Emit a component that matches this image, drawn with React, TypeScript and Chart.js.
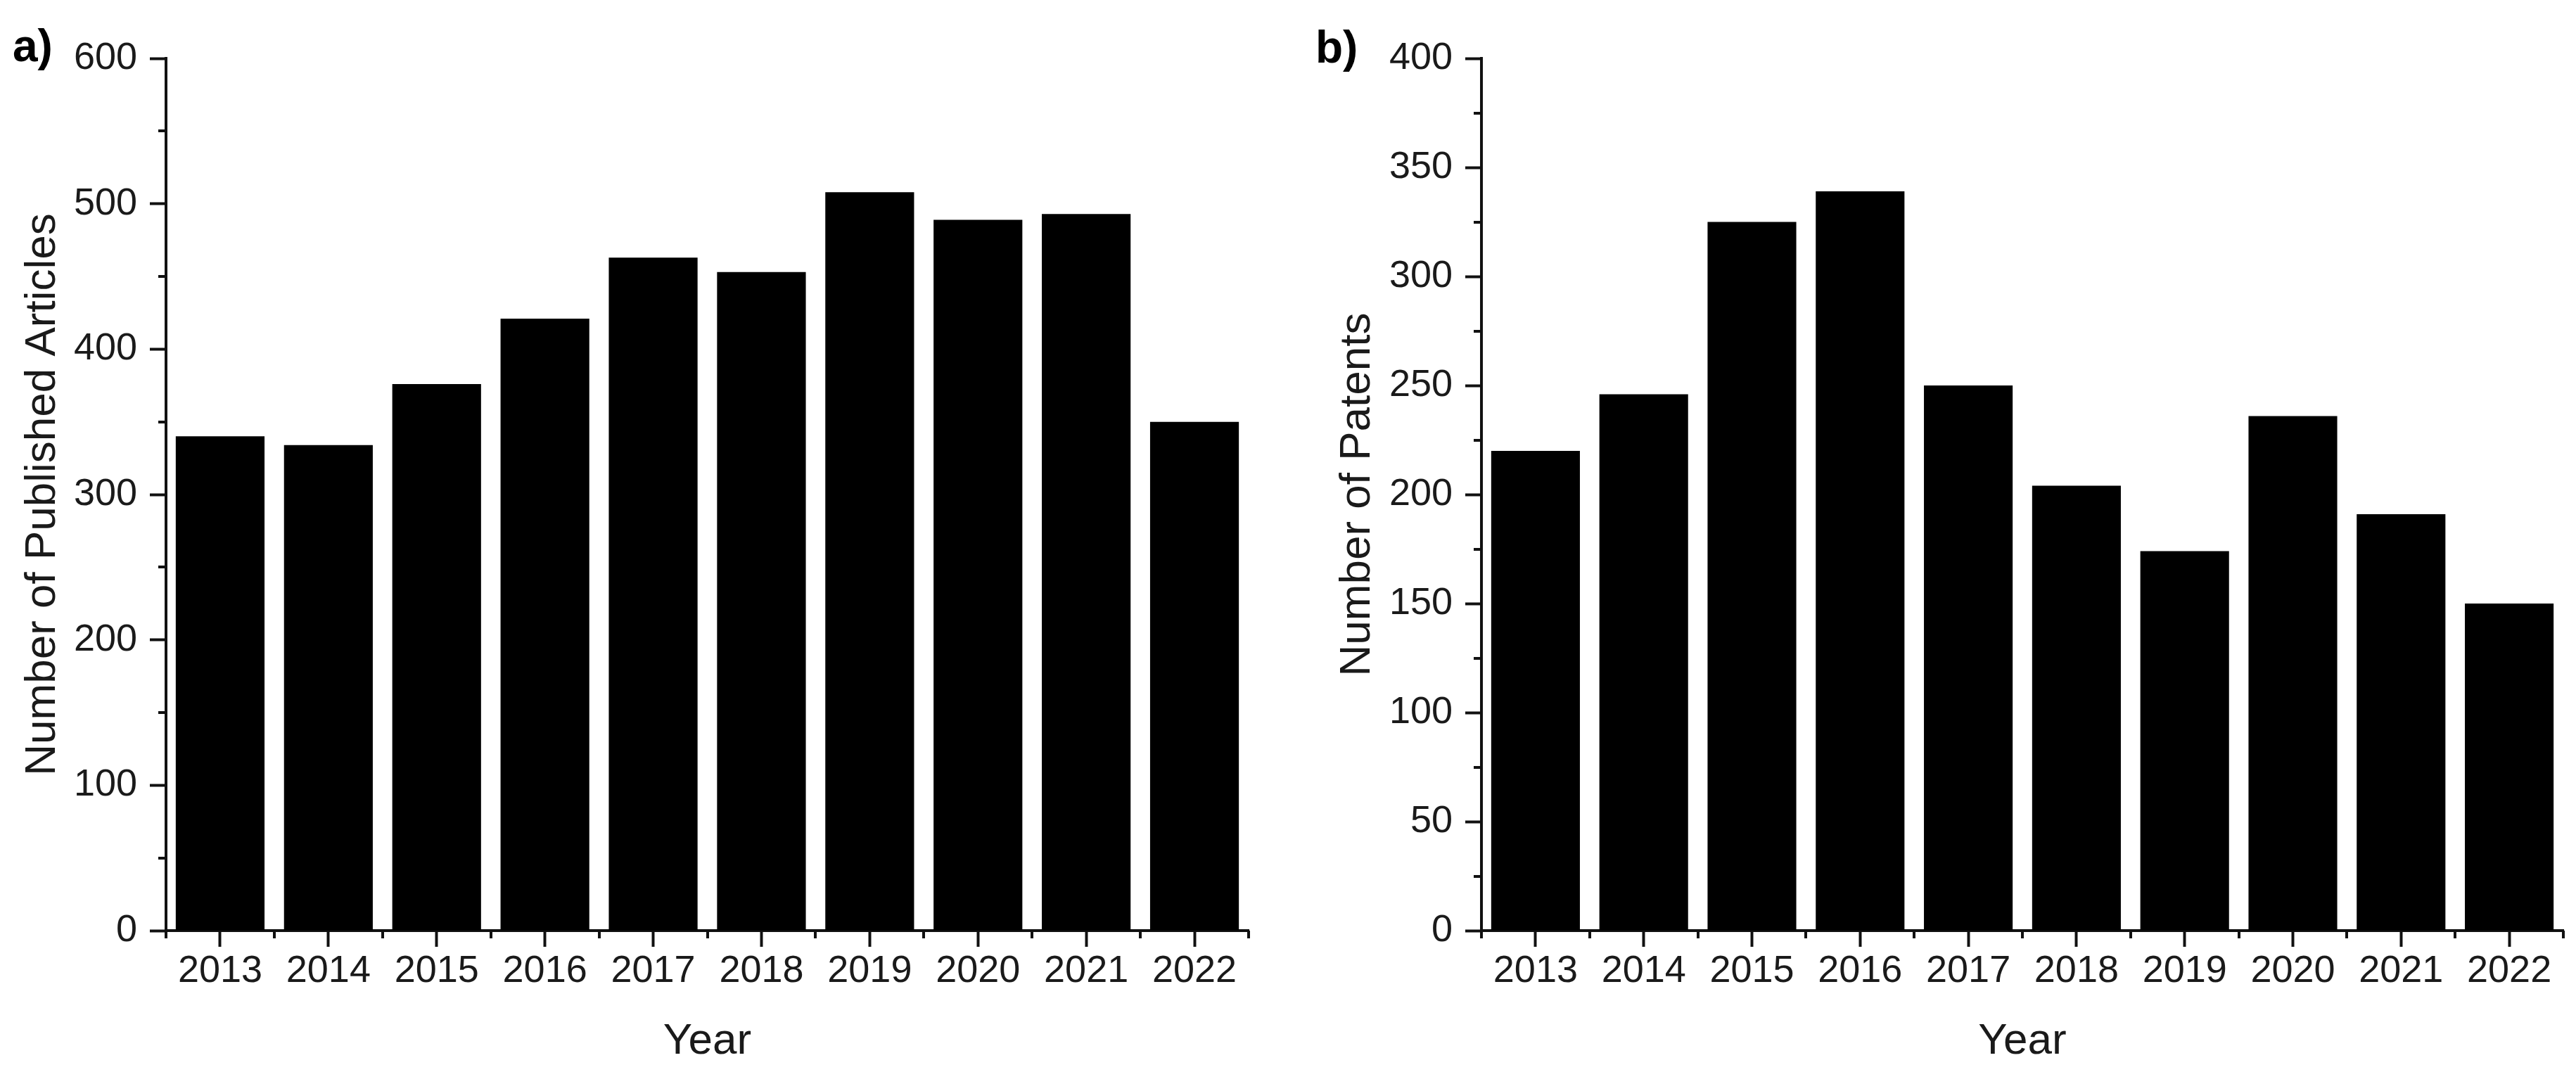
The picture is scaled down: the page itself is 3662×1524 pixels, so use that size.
import React, { useEffect, useRef } from 'react';
import { Chart, registerables } from 'chart.js';

Chart.register(...registerables);

// ---- data ----
const years = ['2013', '2014', '2015', '2016', '2017', '2018', '2019', '2020', '2021', '2022'];
const publishedArticles = [340, 334, 376, 421, 463, 453, 508, 489, 493, 350];
const patents = [220, 246, 325, 339, 250, 204, 174, 236, 191, 150];

const articlesAxisMax = 600;
const articlesAxisStep = 100;
const patentsAxisMax = 400;
const patentsAxisStep = 50;

const xTitle = 'Year';
const articlesTitle = 'Number of Published Articles';
const patentsTitle = 'Number of Patents';

// ---- style ----
const FONT = "'Liberation Sans', Arial, Helvetica, sans-serif";
const TEXT_COLOR = '#1a1a1a';
const AXIS_COLOR = '#111';
const H = 1524;
const PLOT_TOP = 83;
const PLOT_BOTTOM = 1323;
const MAJOR_LEN = 23;
const MINOR_LEN = 11;
const LINE_W = 4;

type PanelProps = {
  labels: string[];
  values: number[];
  yTitle: string;
  yMax: number;
  yStep: number;
  width: number;
  yAxisWidth: number;
  rightPad: number;
  titlePad: number;
};

function BarPanel({ labels, values, yTitle, yMax, yStep, width, yAxisWidth, rightPad, titlePad }: PanelProps) {
  const ref = useRef<HTMLCanvasElement>(null);

  useEffect(() => {
    const canvas = ref.current;
    if (!canvas) return;

    const minorTicks = {
      id: 'minorTicks',
      afterDraw(chart: any) {
        const { ctx, chartArea } = chart;
        const xs = chart.scales.x;
        const ys = chart.scales.y;
        ctx.save();
        ctx.strokeStyle = AXIS_COLOR;
        ctx.lineWidth = LINE_W;
        ctx.beginPath();
        for (let v = yStep / 2; v < yMax; v += yStep) {
          const py = Math.round(ys.getPixelForValue(v));
          ctx.moveTo(chartArea.left - MINOR_LEN, py);
          ctx.lineTo(chartArea.left, py);
        }
        for (let i = 0; i <= labels.length; i++) {
          const px = Math.round(xs.getPixelForValue(i - 0.5));
          ctx.moveTo(px, chartArea.bottom);
          ctx.lineTo(px, chartArea.bottom + MINOR_LEN);
        }
        ctx.stroke();
        ctx.restore();
      },
    };

    const tickFont = { family: FONT, size: 54 };
    const titleFont = { family: FONT, size: 62 };

    const chart = new Chart(canvas, {
      type: 'bar',
      data: {
        labels,
        datasets: [
          {
            data: values,
            backgroundColor: '#000',
            borderWidth: 0,
            categoryPercentage: 1,
            barPercentage: 0.82,
          },
        ],
      },
      options: {
        animation: false,
        responsive: false,
        maintainAspectRatio: false,
        layout: { padding: { left: 0, right: rightPad, top: PLOT_TOP, bottom: 0 } },
        plugins: { legend: { display: false }, tooltip: { enabled: false } },
        scales: {
          x: {
            offset: true,
            grid: {
              display: true,
              offset: false,
              drawOnChartArea: false,
              drawTicks: true,
              tickLength: MAJOR_LEN,
              tickWidth: LINE_W,
              tickColor: AXIS_COLOR,
            },
            border: { display: true, color: AXIS_COLOR, width: LINE_W },
            ticks: { font: tickFont, color: TEXT_COLOR, padding: 3, autoSkip: false, maxRotation: 0, minRotation: 0 },
            title: { display: true, text: xTitle, font: titleFont, color: TEXT_COLOR, padding: { top: 0, bottom: 6 } },
            afterFit: (s: any) => {
              s.height = H - PLOT_BOTTOM;
            },
          },
          y: {
            min: 0,
            max: yMax,
            grid: {
              display: true,
              drawOnChartArea: false,
              drawTicks: true,
              tickLength: MAJOR_LEN,
              tickWidth: LINE_W,
              tickColor: AXIS_COLOR,
            },
            border: { display: true, color: AXIS_COLOR, width: LINE_W },
            ticks: { stepSize: yStep, font: tickFont, color: TEXT_COLOR, padding: 18 },
            title: { display: true, text: yTitle, font: titleFont, color: TEXT_COLOR, padding: { top: titlePad, bottom: 0 } },
            afterFit: (s: any) => {
              s.width = yAxisWidth;
            },
          },
        },
      } as any,
      plugins: [minorTicks],
    });

    return () => chart.destroy();
  }, [labels, values, yTitle, yMax, yStep, width, yAxisWidth, rightPad, titlePad]);

  return <canvas ref={ref} width={width} height={H} style={{ display: 'block', width, height: H }} />;
}

const panelLabelStyle: React.CSSProperties = {
  position: 'absolute',
  fontFamily: FONT,
  fontWeight: 'bold',
  fontSize: 64,
  lineHeight: 1,
  color: '#000',
  margin: 0,
};

export default function App() {
  return (
    <div
      style={{
        position: 'absolute',
        left: 0,
        top: 0,
        width: 3662,
        height: H,
        background: '#fff',
        overflow: 'hidden',
      }}
    >
      <div style={{ position: 'absolute', left: 0, top: 0 }}>
        <BarPanel
          labels={years}
          values={publishedArticles}
          yTitle={articlesTitle}
          yMax={articlesAxisMax}
          yStep={articlesAxisStep}
          width={1830}
          yAxisWidth={236}
          rightPad={55}
          titlePad={24}
        />
      </div>
      <div style={{ position: 'absolute', left: 1830, top: 0 }}>
        <BarPanel
          labels={years}
          values={patents}
          yTitle={patentsTitle}
          yMax={patentsAxisMax}
          yStep={patentsAxisStep}
          width={1832}
          yAxisWidth={276}
          rightPad={18}
          titlePad={63}
        />
      </div>
      <div style={{ ...panelLabelStyle, left: 18, top: 33 }}>a)</div>
      <div style={{ ...panelLabelStyle, left: 1870, top: 35 }}>b)</div>
    </div>
  );
}
